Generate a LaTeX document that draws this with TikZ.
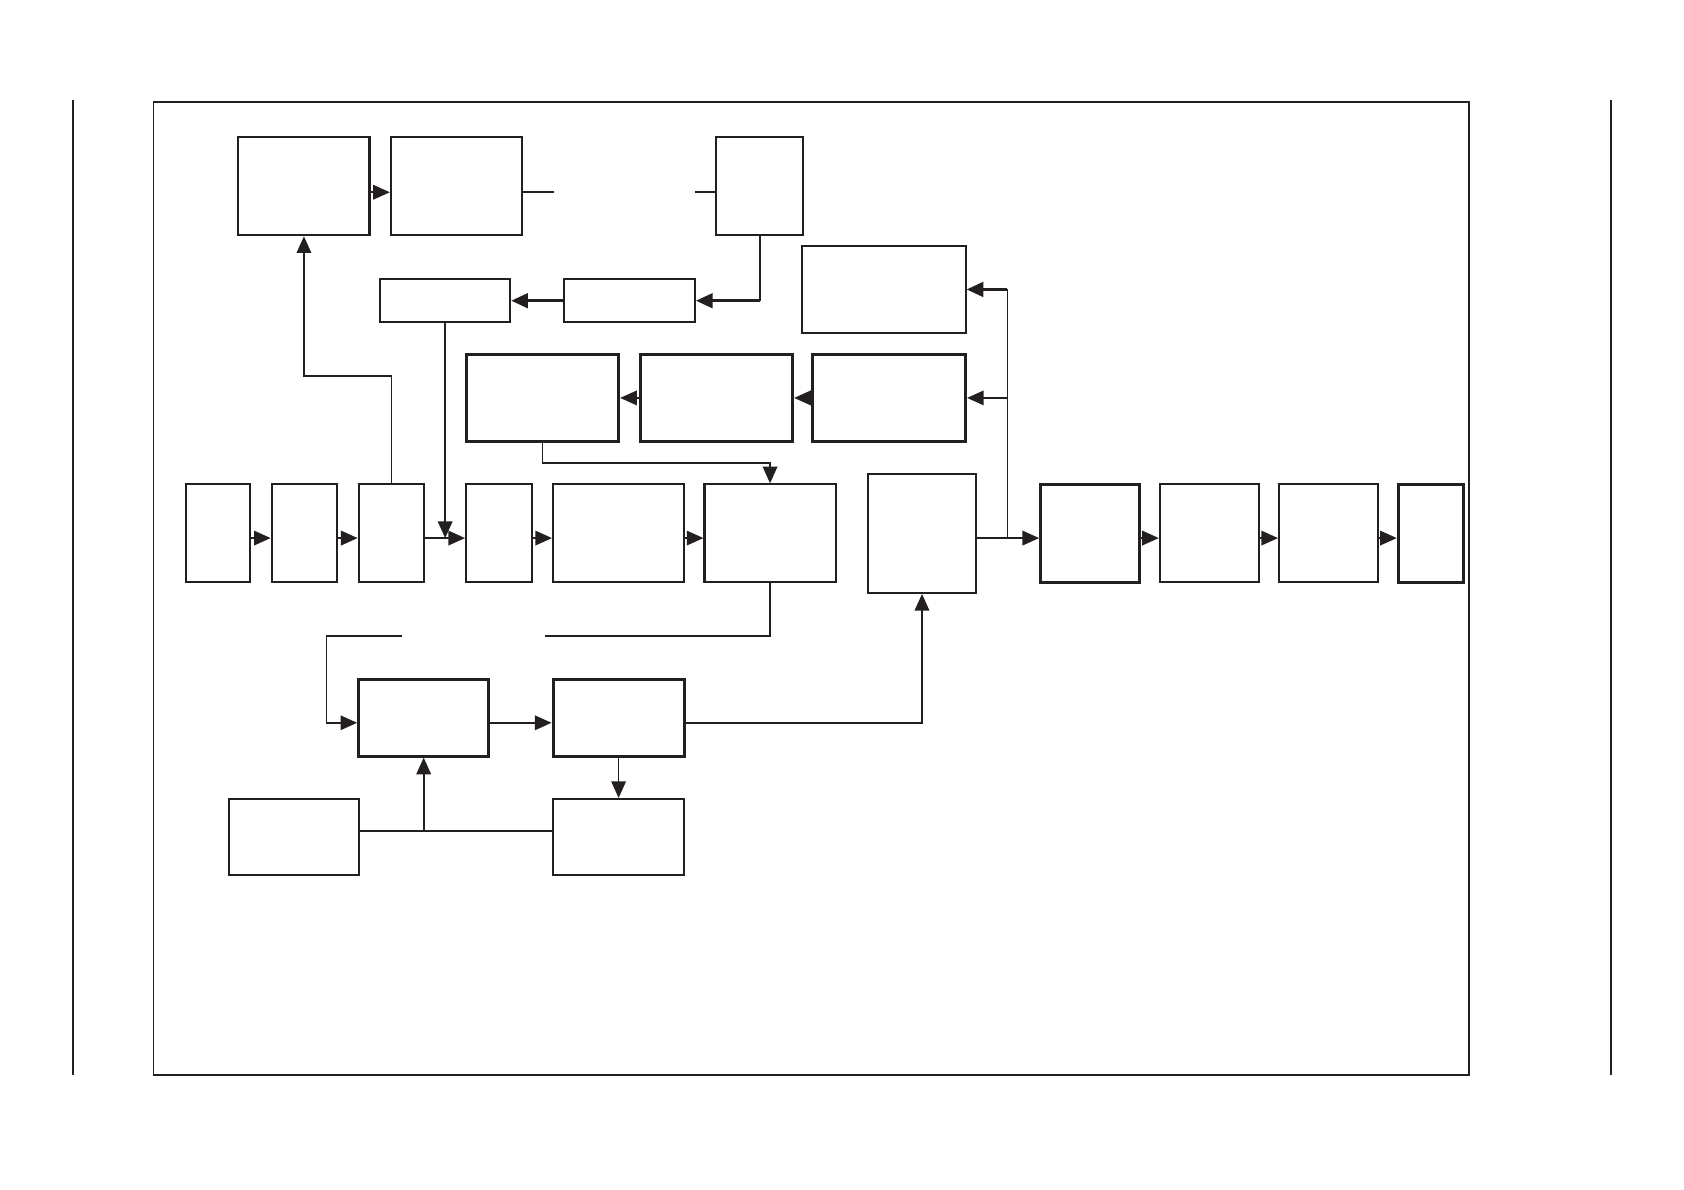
\documentclass[tikz,border=0pt]{standalone}
\usepackage{tikz}
\usetikzlibrary{arrows.meta,calc}
\definecolor{inkgray}{RGB}{35,31,32}
\tikzset{
  blk/.style={draw=inkgray, fill=white, line width=0.55pt, inner sep=0pt},
  blkb/.style={blk, line width=0.8pt},
  wire/.style={inkgray, line width=0.45pt},
  arr/.style={-{Triangle[length=1.55mm, width=1.35mm]}, inkgray, line width=0.45pt},
  arrb/.style={arr, line width=0.8pt},
}

\begin{document}
\begin{tikzpicture}[x=0.01cm, y=-0.01cm]
  \useasboundingbox (0,0) rectangle (1568,1108);
  \draw[wire] (143,95) rectangle (1368,1001);
  \draw[wire] (68,93) -- (68,1001);
  \draw[wire] (1500,93) -- (1500,1001);

  \coordinate (topy) at (0,179);
  \coordinate (rowy) at (0,501);
  \coordinate (boty) at (0,673);
  \coordinate (lowy) at (0,774);

  \node[blk, minimum width=1.22cm, minimum height=0.91cm] (ta) at (283,173.5) {};
  \node[blk, minimum width=1.22cm, minimum height=0.91cm] (tb) at (425,173.5) {};
  \node[blk, minimum width=0.81cm, minimum height=0.91cm] (tc) at (707.5,173.5) {};
  \node[blk, minimum width=1.22cm, minimum height=0.40cm] (sd) at (586,280) {};
  \node[blk, minimum width=1.21cm, minimum height=0.40cm] (se) at (414.5,280) {};
  \node[blk, minimum width=1.52cm, minimum height=0.81cm] (fi) at (823,269.5) {};
  \node[blkb, minimum width=1.42cm, minimum height=0.81cm] (ff) at (505,370.5) {};
  \node[blkb, minimum width=1.42cm, minimum height=0.81cm] (fg) at (667,370.5) {};
  \node[blkb, minimum width=1.42cm, minimum height=0.81cm] (fh) at (828,370.5) {};

  \node[blk, minimum width=0.60cm, minimum height=0.91cm] (p1) at (203,496.5) {};
  \node[blk, minimum width=0.61cm, minimum height=0.91cm] (p2) at (283.5,496.5) {};
  \node[blk, minimum width=0.61cm, minimum height=0.91cm] (p3) at (364.5,496.5) {};
  \node[blk, minimum width=0.61cm, minimum height=0.91cm] (p4) at (464.5,496.5) {};
  \node[blk, minimum width=1.22cm, minimum height=0.91cm] (p5) at (576,496.5) {};
  \node[blk, minimum width=1.22cm, minimum height=0.91cm] (p6) at (717,496.5) {};
  \node[blk, minimum width=1.01cm, minimum height=1.11cm] (mj) at (858.5,496.5) {};
  \node[blkb, minimum width=0.92cm, minimum height=0.91cm] (ok) at (1015,496.5) {};
  \node[blk, minimum width=0.92cm, minimum height=0.91cm] (ol) at (1126,496.5) {};
  \node[blk, minimum width=0.92cm, minimum height=0.91cm] (om) at (1237,496.5) {};
  \node[blkb, minimum width=0.61cm, minimum height=0.91cm] (on) at (1332.5,496.5) {};

  \node[blkb, minimum width=1.21cm, minimum height=0.71cm] (bq) at (394.5,668.5) {};
  \node[blkb, minimum width=1.22cm, minimum height=0.71cm] (br) at (576,668.5) {};
  \node[blk, minimum width=1.22cm, minimum height=0.71cm] (bs) at (576,779.5) {};
  \node[blk, minimum width=1.21cm, minimum height=0.71cm] (bt) at (273.5,779.5) {};

  \coordinate (bgap) at (516,179);
  \coordinate (cgap) at (647,179);
  \coordinate (cturn) at (707.5,280);
  \coordinate (p3up) at (364.5,350);
  \coordinate (fdown) at (505,431);
  \coordinate (jn) at (938,501);
  \coordinate (jtop) at (938,269.5);
  \coordinate (gapr) at (507,592);
  \coordinate (gapl) at (374,592);
  \coordinate (qturn) at (304,592);
  \coordinate (tsplit) at (394.5,774);

  \draw[arr] (ta.east |- topy) -- (tb.west |- topy);
  \draw[wire] (tb.east |- topy) -- (bgap);
  \draw[wire] (cgap) -- (tc.west |- topy);
  \draw[wire] (tc.south) -- (cturn);
  \draw[arrb] (cturn) -- (sd.east);
  \draw[arrb] (sd.west) -- (se.east);
  \draw[arr] (se.south) -- (se.south |- rowy);
  \draw[arr] (p3.north) -- (p3up) -| (ta.south);

  \draw[wire] (jn) -- (jtop);
  \draw[arrb] (jtop) -- (fi.east);
  \draw[arr] (jn) |- (fh.east);
  \draw[arr] (fh.west) -- (fg.east);
  \draw[arr] (fg.west) -- (ff.east);
  \draw[arr] (ff.south) -- (fdown) -| (p6.north);

  \draw[arr] (p1.east |- rowy) -- (p2.west |- rowy);
  \draw[arr] (p2.east |- rowy) -- (p3.west |- rowy);
  \draw[arr] (p3.east |- rowy) -- (p4.west |- rowy);
  \draw[arr] (p4.east |- rowy) -- (p5.west |- rowy);
  \draw[arr] (p5.east |- rowy) -- (p6.west |- rowy);
  \draw[arr] (mj.east |- rowy) -- (ok.west |- rowy);
  \draw[arr] (ok.east |- rowy) -- (ol.west |- rowy);
  \draw[arr] (ol.east |- rowy) -- (om.west |- rowy);
  \draw[arr] (om.east |- rowy) -- (on.west |- rowy);

  \draw[wire] (p6.south) |- (gapr);
  \draw[arr] (gapl) -- (qturn) |- (bq.west |- boty);
  \draw[arr] (bq.east |- boty) -- (br.west |- boty);
  \draw[arr] (br.east |- boty) -| (mj.south);
  \draw[arr] (br.south) -- (bs.north);
  \draw[wire] (bt.east |- lowy) -- (bs.west |- lowy);
  \draw[arr] (tsplit) -- (bq.south);
\end{tikzpicture}
\end{document}
